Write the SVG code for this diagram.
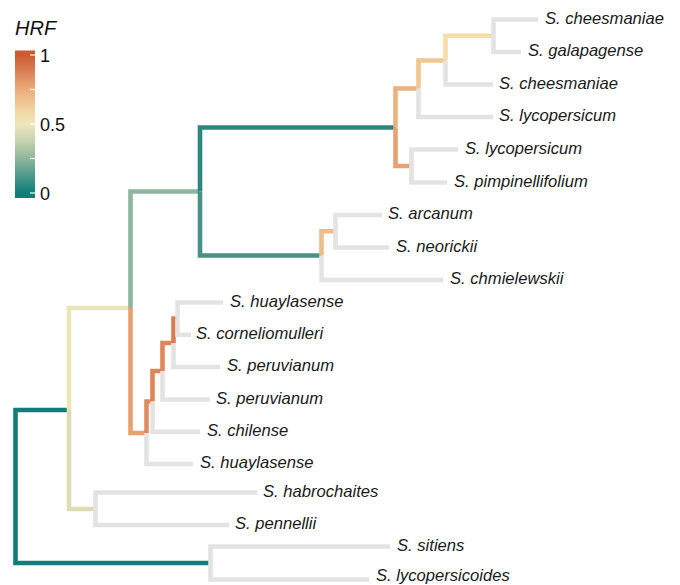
<svg xmlns="http://www.w3.org/2000/svg" width="680" height="585" viewBox="0 0 680 585">
<style>
  .e{fill:none;stroke-width:4.6;stroke-linejoin:miter;stroke-linecap:butt}
  .g{stroke:#e3e3e3}
  .lbl{font-family:"Liberation Sans",Arial,sans-serif;font-style:italic;font-size:16.6px;fill:#1a1a1a}
  .leg{font-family:"Liberation Sans",Arial,sans-serif;font-size:18px;fill:#111}
</style>
<defs>
  <linearGradient id="hrf" gradientUnits="userSpaceOnUse" x1="0" y1="55" x2="0" y2="193">
    <stop offset="0" stop-color="#cc5a32"/>
    <stop offset="0.25" stop-color="#ebac7c"/>
    <stop offset="0.42" stop-color="#f2d9a6"/>
    <stop offset="0.5" stop-color="#eee7bd"/>
    <stop offset="0.62" stop-color="#c7d4b0"/>
    <stop offset="0.75" stop-color="#8fb59c"/>
    <stop offset="1" stop-color="#0d7e79"/>
  </linearGradient>
</defs>
<rect width="680" height="585" fill="#ffffff"/>

<g id="legend">
  <text x="15" y="35" class="leg" style="font-style:italic;font-size:20px">HRF</text>
  <rect x="15" y="50.5" width="20" height="147.5" fill="url(#hrf)"/>
  <g stroke="#ffffff" stroke-width="1.2">
    <line x1="30" y1="55" x2="35" y2="55"/>
    <line x1="30" y1="89.5" x2="35" y2="89.5"/>
    <line x1="30" y1="124" x2="35" y2="124"/>
    <line x1="30" y1="158.5" x2="35" y2="158.5"/>
    <line x1="30" y1="193" x2="35" y2="193"/>
  </g>
  <text x="40" y="62" class="leg">1</text>
  <text x="40" y="131" class="leg">0.5</text>
  <text x="40" y="200" class="leg">0</text>
</g>

<g id="connectors">
  <!-- root -->
  <path class="e" stroke="#0e7f7a" d="M15.5 487 V410 H69"/>
  <path class="e" stroke="#0e7f7a" d="M15.5 487 V563 H210.5"/>
  <!-- A -->
  <path class="e" stroke="#ebe6b9" d="M69 410 V308 H130.5"/>
  <path class="e" stroke="#dcdcb6" d="M69 410 V509 H95.5"/>
  <!-- D -->
  <path class="e g" d="M95.5 509 V492.5 H257"/>
  <path class="e g" d="M95.5 509 V525 H229"/>
  <!-- B -->
  <path class="e g" d="M210.5 563 V546.5 H390"/>
  <path class="e g" d="M210.5 563 V579.5 H369"/>
  <!-- C -->
  <path class="e" stroke="#8fb69d" d="M130.5 308 V191.5 H200"/>
  <path class="e" stroke="#e9a06f" d="M130.5 308 V433 H146.5"/>
  <!-- E -->
  <path class="e" stroke="#2b877e" d="M200 191.5 V127.5 H395.5"/>
  <path class="e" stroke="#4a9185" d="M200 191.5 V255.5 H321.5"/>
  <!-- G -->
  <path class="e" stroke="#edb17f" d="M395.5 127.5 V88.5 H418.5"/>
  <path class="e" stroke="#e8a272" d="M395.5 127.5 V166 H411.5"/>
  <!-- I -->
  <path class="e" stroke="#f1c691" d="M418.5 88.5 V60.5 H445.5"/>
  <path class="e g" d="M418.5 88.5 V117 H493"/>
  <!-- K -->
  <path class="e" stroke="#f5dca8" d="M445.5 60.5 V35.75 H493.5"/>
  <path class="e g" d="M445.5 60.5 V84.5 H493"/>
  <!-- L -->
  <path class="e g" d="M493.5 35.75 V19.5 H538"/>
  <path class="e g" d="M493.5 35.75 V52 H521"/>
  <!-- J -->
  <path class="e g" d="M411.5 166 V149.5 H458"/>
  <path class="e g" d="M411.5 166 V182.5 H447"/>
  <!-- H -->
  <path class="e" stroke="#efbd89" d="M321.5 255.5 V231.25 H335.5"/>
  <path class="e g" d="M321.5 255.5 V280 H443"/>
  <!-- M -->
  <path class="e g" d="M335.5 231.25 V215 H382"/>
  <path class="e g" d="M335.5 231.25 V247.5 H389"/>
  <!-- F ladder -->
  <path class="e" stroke="#e08a5e" d="M146.5 433 V401.5 H152.5"/>
  <path class="e g" d="M146.5 433 V464 H193"/>
  <path class="e" stroke="#df8658" d="M152.5 401.5 V371 H162.5"/>
  <path class="e g" d="M152.5 401.5 V431.7 H200"/>
  <path class="e" stroke="#e0875a" d="M162.5 371 V343 H173.5"/>
  <path class="e g" d="M162.5 371 V399.5 H210"/>
  <path class="e" stroke="#db7d4f" d="M173.5 343 V318.6 H177.5"/>
  <path class="e g" d="M173.5 343 V367 H220"/>
  <path class="e g" d="M177.5 318.6 V302.5 H223"/>
  <path class="e g" d="M177.5 318.6 V334.8 H191"/>
</g>

<g id="leaf-cheesmaniae-1"><text class="lbl" x="545" y="23.5">S. cheesmaniae</text></g>
<g id="leaf-galapagense"><text class="lbl" x="528" y="56">S. galapagense</text></g>
<g id="leaf-cheesmaniae-2"><text class="lbl" x="499" y="88.5">S. cheesmaniae</text></g>
<g id="leaf-lycopersicum-1"><text class="lbl" x="499" y="121">S. lycopersicum</text></g>
<g id="leaf-lycopersicum-2"><text class="lbl" x="465" y="153.5">S. lycopersicum</text></g>
<g id="leaf-pimpinellifolium"><text class="lbl" x="454" y="186.5">S. pimpinellifolium</text></g>
<g id="leaf-arcanum"><text class="lbl" x="388" y="219">S. arcanum</text></g>
<g id="leaf-neorickii"><text class="lbl" x="396" y="251.5">S. neorickii</text></g>
<g id="leaf-chmielewskii"><text class="lbl" x="450" y="284">S. chmielewskii</text></g>
<g id="leaf-huaylasense-1"><text class="lbl" x="230" y="306.5">S. huaylasense</text></g>
<g id="leaf-corneliomulleri"><text class="lbl" x="196" y="338.8">S. corneliomulleri</text></g>
<g id="leaf-peruvianum-1"><text class="lbl" x="227" y="371">S. peruvianum</text></g>
<g id="leaf-peruvianum-2"><text class="lbl" x="216" y="403.5">S. peruvianum</text></g>
<g id="leaf-chilense"><text class="lbl" x="207" y="435.7">S. chilense</text></g>
<g id="leaf-huaylasense-2"><text class="lbl" x="200" y="468">S. huaylasense</text></g>
<g id="leaf-habrochaites"><text class="lbl" x="263" y="496.5">S. habrochaites</text></g>
<g id="leaf-pennellii"><text class="lbl" x="235" y="529">S. pennellii</text></g>
<g id="leaf-sitiens"><text class="lbl" x="397" y="550.5">S. sitiens</text></g>
<g id="leaf-lycopersicoides"><text class="lbl" x="376" y="580.5">S. lycopersicoides</text></g>
</svg>
